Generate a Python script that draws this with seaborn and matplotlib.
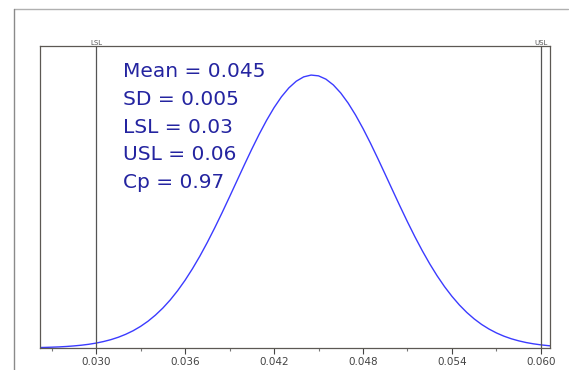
import matplotlib as mpl
import matplotlib.pyplot as plt
import numpy as np
import pandas as pd
import seaborn as sns
from matplotlib.lines import Line2D
from matplotlib.transforms import blended_transform_factory

sns.set_style('white')
plt.rcParams['font.family'] = ['DejaVu Sans']

# curve (density vs. value)
x_vals = [0.0260, 0.0265, 0.0270, 0.0275, 0.0280, 0.0285, 0.0290, 0.0295,
          0.0300, 0.0305, 0.0310, 0.0315, 0.0320, 0.0325, 0.0330, 0.0335,
          0.0340, 0.0345, 0.0350, 0.0355, 0.0360, 0.0365, 0.0370, 0.0375,
          0.0380, 0.0385, 0.0390, 0.0395, 0.0400, 0.0405, 0.0410, 0.0415,
          0.0420, 0.0425, 0.0430, 0.0435, 0.0440, 0.0445, 0.0450, 0.0455,
          0.0460, 0.0465, 0.0470, 0.0475, 0.0480, 0.0485, 0.0490, 0.0495,
          0.0500, 0.0505, 0.0510, 0.0515, 0.0520, 0.0525, 0.0530, 0.0535,
          0.0540, 0.0545, 0.0550, 0.0555, 0.0560, 0.0565, 0.0570, 0.0575,
          0.0580, 0.0585, 0.0590, 0.0595, 0.0600, 0.0605, 0.0610]
density = [0.11, 0.16, 0.23, 0.31, 0.43, 0.59, 0.79, 1.05,
           1.39, 1.83, 2.37, 3.05, 3.89, 4.90, 6.13, 7.59,
           9.32, 11.32, 13.63, 16.26, 19.21, 22.49, 26.07, 29.95,
           34.08, 38.41, 42.89, 47.44, 51.98, 56.42, 60.67, 64.62,
           68.19, 71.28, 73.81, 75.71, 76.94, 77.45, 77.23, 76.29,
           74.65, 72.36, 69.49, 66.10, 62.29, 58.15, 53.77, 49.26,
           44.71, 40.19, 35.79, 31.57, 27.59, 23.88, 20.48, 17.40,
           14.65, 12.21, 10.08, 8.25, 6.68, 5.37, 4.27, 3.36,
           2.62, 2.03, 1.55, 1.18, 0.89, 0.66, 0.49]

lsl, usl = 0.030, 0.060
major_ticks = [0.030, 0.036, 0.042, 0.048, 0.054, 0.060]
minor_ticks = [0.027, 0.033, 0.039, 0.045, 0.051, 0.057]
tick_labels = ['0.030', '0.036', '0.042', '0.048', '0.054', '0.060']
stats = ['Mean = 0.045', 'SD = 0.005', 'LSL = 0.03', 'USL = 0.06', 'Cp = 0.97']

df = pd.DataFrame({'x': x_vals, 'y': density})

W, H = 569, 370
fig = plt.figure(figsize=(W / 100, H / 100), dpi=100)
ax = fig.add_axes([40 / W, (H - 348) / H, 510 / W, 302 / H])

sns.lineplot(data=df, x='x', y='y', ax=ax, color='#3b3bff', lw=1.0)

ax.axvline(lsl, color='#555555', lw=0.9)
ax.axvline(usl, color='#555555', lw=0.9)

ax.set_xlim(0.02622, 0.06061)
ax.set_ylim(0, 85.7)
ax.set_xlabel('')
ax.set_ylabel('')
ax.set_yticks([])
ax.set_xticks(major_ticks)
ax.set_xticklabels(tick_labels)
ax.set_xticks(minor_ticks, minor=True)
ax.tick_params(axis='x', which='major', direction='out', length=4,
               width=0.8, color='#444444', labelsize=7.5,
               labelcolor='#444444', pad=2.5, bottom=True)
ax.tick_params(axis='x', which='minor', direction='out', length=2,
               width=0.8, color='#777777', bottom=True)
for s in ax.spines.values():
    s.set_color('#5c5853')
    s.set_linewidth(0.9)
    s.set_visible(True)

# spec limit markers above the plot box
trans = blended_transform_factory(ax.transData, ax.transAxes)
ax.text(lsl, 1.0, 'LSL', transform=trans, ha='center', va='bottom',
        fontsize=5, color='#555555')
ax.text(usl, 1.0, 'USL', transform=trans, ha='center', va='bottom',
        fontsize=5, color='#555555')

for i, s in enumerate(stats):
    ax.text((123 - 40) / 510, 0.8957 - i * 0.0911, s, transform=ax.transAxes,
            ha='left', va='baseline', fontsize=14.5, color='#2424a0')

# outer frame
fig.add_artist(Line2D([14 / W, 568 / W], [1 - 9 / H, 1 - 9 / H],
                      transform=fig.transFigure, color='#b0b0b0', lw=1))
fig.add_artist(Line2D([14 / W, 14 / W], [0, 1 - 9 / H],
                      transform=fig.transFigure, color='#8a8a8a', lw=1))

plt.savefig('out.png', dpi=100, facecolor='w')
